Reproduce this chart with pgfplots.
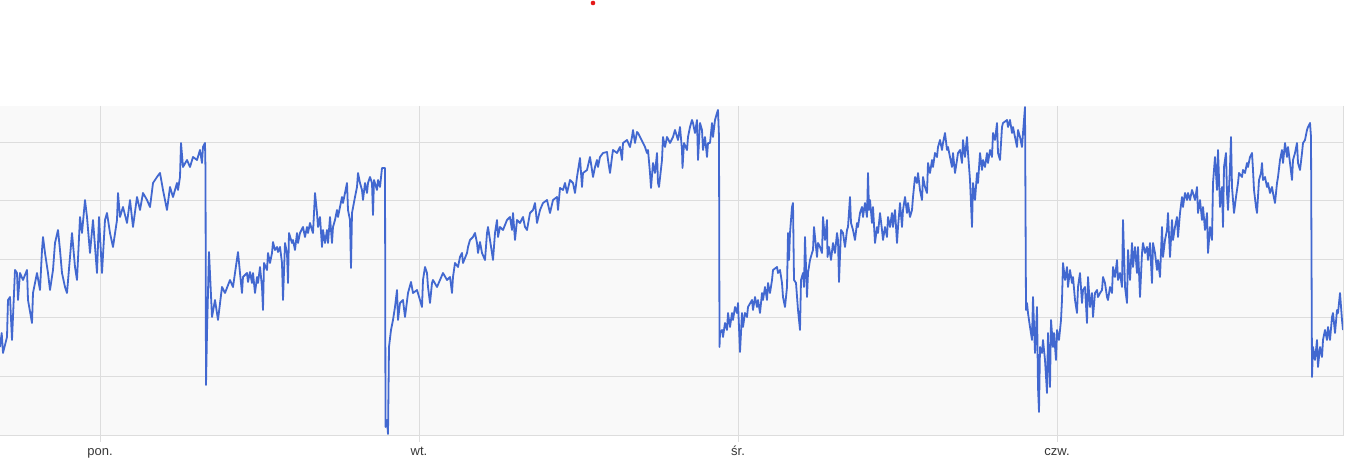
\documentclass[border=0pt]{standalone}
\usepackage{fontspec}
\setmainfont{Liberation Sans}
\usepackage{pgfplots}
\pgfplotsset{compat=1.18}
\definecolor{linec}{RGB}{66,104,208}
\definecolor{bgc}{RGB}{249,249,249}
\definecolor{gridc}{RGB}{221,221,221}
\definecolor{labc}{RGB}{55,55,55}
\definecolor{dotc}{RGB}{228,24,24}
\begin{document}
\begin{tikzpicture}[x=1pt,y=1pt]
\useasboundingbox (0,0) rectangle (1350,462);
\fill[dotc] (593,459) circle (2.3);
\begin{axis}[
  at={(0pt,26pt)}, anchor=south west,
  width=1343pt, height=330pt, scale only axis,
  xmin=0, xmax=1343, ymin=106, ymax=436, y dir=reverse,
  axis background/.style={fill=bgc},
  axis x line*=bottom, axis y line*=right,
  axis line style={gridc, line width=1pt},
  xtick={100,419,738,1057},
  xticklabels={pon.,wt.,śr.,czw.},
  ytick={143,201,260,318,377}, yticklabels={},
  ytick style={draw=none},
  xtick style={gridc, line width=1pt},
  major tick length=6pt, tick align=outside,
  grid=major, major grid style={gridc, line width=1pt},
  tick label style={font=\fontsize{13}{15}\selectfont, text=labc},
  xticklabel style={yshift=0pt, text height=9.5pt, text depth=2.8pt},
]
\addplot[linec, line width=1.8pt, line join=round] table[x=x,y=y] {
x y
0 347
1.7 333
3 353
7 337
8 300
10 297
12 340
13 317
15 270
17 273
18 300
20 273
23 280
27 270
28 300
32 323
33 293
37 273
40 290
42 250
43 237
45 253
48 273
50 290
53 270
55 243
58 230
60 250
62 273
65 287
67 293
70 257
72 233
75 267
77 280
80 217
82 233
85 200
87 217
90 253
93 220
97 273
99 217
102 273
105 220
107 213
110 233
113 247
117 220
118 193
120 217
123 207
127 223
130 200
133 227
137 197
140 210
143 193
147 200
150 207
153 183
157 177
160 173
163 190
167 210
170 187
173 197
177 183
178 190
180 177
181 143
183 167
187 160
190 167
193 157
197 160
200 150
202 163
203 147
205 143
205.5 170
206 385
207 333
209 252
212 317
215 300
218 320
222 287
225 293
230 280
233 287
238 252
240 273
242 293
243 277
247 273
248 282
250 272
252 283
253 273
255 293
257 277
258 283
260 267
262 287
263 310
264 263
267 270
268 253
270 263
272 253
273 242
275 250
277 247
278 252
280 247
282 263
283 300
285 243
287 253
288 283
289 233
292 243
293 240
295 250
297 233
298 243
300 233
303 227
305 237
307 227
308 233
310 223
312 230
313 233
315 193
317 213
318 227
320 217
322 247
323 230
325 243
327 230
328 243
330 217
332 243
333 227
335 220
337 210
338 217
340 207
342 197
343 203
345 193
347 183
348 210
350 220
351 268
352 213
355 197
357 187
358 173
360 183
362 190
363 200
365 183
367 193
368 183
370 177
372 183
373 215
374 180
377 190
378 180
380 187
382 168
385 168
385.5 427
387 420
388 434
389 347
391 330
393 320
395 307
397 290
398 320
400 303
403 300
405 317
408 293
411 282
413 293
417 290
420 300
422 307
423 280
425 267
427 273
428 287
430 303
432 283
433 280
437 287
440 280
443 273
447 280
450 277
452 293
453 277
455 263
458 267
460 257
462 253
463 263
467 253
468 247
470 240
473 237
475 233
477 243
478 253
480 242
482 253
485 260
487 233
488 227
490 240
492 253
493 260
495 233
497 220
498 237
500 227
503 230
507 220
510 217
512 230
513 213
515 240
517 220
520 223
523 217
525 227
527 230
530 213
533 210
535 203
537 223
540 210
543 203
547 200
550 213
553 200
557 197
558 210
560 188
563 190
565 183
567 193
570 180
573 183
575 193
577 177
580 158
582 187
583 173
587 170
590 157
592 170
593 177
595 167
597 160
598 167
600 157
603 153
607 152
608 160
610 173
612 157
613 150
617 153
620 147
622 160
623 143
627 140
630 147
632 137
633 130
635 143
637 132
638 133
640 137
643 143
645 147
647 153
648 150
650 173
651 188
653 163
655 173
657 153
658 183
659 187
662 160
663 137
665 147
667 137
670 143
673 137
675 130
678 140
680 127
682 150
682.5 168
684 143
687 150
688 137
690 127
692 120
693 123
695 133
697 120
698 160
700 123
702 130
703 150
705 137
707 157
708 143
710 143
712 123
713 137
715 120
717 113
718 110
719 137
719.5 347
720 333
722 330
723 337
725 323
727 330
728 313
730 327
732 313
733 320
735 307
737 313
738 303
740 352
742 313
743 327
745 313
747 317
748 307
752 300
753 310
755 297
757 307
758 300
760 313
762 293
763 300
765 287
767 300
768 283
770 293
772 280
773 270
777 267
778 273
780 270
782 283
783 297
785 307
787 287
788 233
789 260
790 233
792 207
793 203
794 280
796 283
798 310
800 330
801 280
803 273
804 287
805 237
807 297
808 273
810 260
812 253
813 250
814 227
817 257
818 243
820 247
822 253
823 217
825 240
827 220
827.5 257
829 247
831 260
833 243
835 253
837 233
838 240
839 282
841 230
843 233
845 247
847 230
848 227
850 197
851 223
853 230
855 240
857 223
858 227
860 213
862 207
863 217
865 203
867 217
868 173
869 210
870 200
872 223
873 207
875 243
877 227
878 233
880 213
882 230
883 240
885 227
887 237
888 217
890 227
892 213
893 227
895 210
897 243
898 227
900 203
902 227
903 210
905 197
907 213
908 203
910 217
912 210
913 197
915 177
917 183
918 173
920 190
922 200
923 177
925 187
927 193
928 163
930 173
932 160
933 167
935 153
937 157
938 147
940 140
942 150
943 143
945 133
947 150
948 147
950 157
952 167
953 153
955 173
957 160
958 153
960 150
962 163
963 140
965 157
967 137
968 153
970 180
972 227
973 183
975 200
977 173
978 183
980 153
982 170
983 160
985 167
987 153
988 163
990 150
992 157
993 133
995 140
997 123
998 153
1000 160
1002 127
1003 123
1007 120
1008 127
1010 120
1012 133
1013 127
1015 137
1017 147
1018 130
1020 137
1022 147
1023 133
1025 107
1026 310
1027 303
1028 313
1030 327
1032 340
1033 297
1035 353
1037 307
1038 387
1039 412
1040 347
1042 353
1043 340
1045 360
1047 393
1048 333
1050 387
1051 320
1053 347
1054 333
1056 360
1057 330
1059 340
1061 320
1062 300
1063 263
1065 280
1067 267
1068 287
1070 270
1072 283
1073 277
1075 300
1077 313
1078 287
1080 273
1082 303
1083 290
1085 287
1087 323
1088 277
1090 307
1092 293
1093 317
1095 293
1097 290
1098 297
1100 293
1102 290
1103 277
1105 283
1107 297
1108 300
1110 287
1112 293
1113 267
1115 277
1117 260
1118 280
1120 273
1122 287
1123 220
1125 287
1127 303
1128 250
1130 280
1132 243
1133 267
1135 247
1137 273
1138 247
1140 297
1142 253
1143 243
1145 253
1147 247
1148 260
1150 243
1152 283
1153 243
1155 253
1157 270
1158 260
1160 277
1162 227
1163 257
1165 240
1167 230
1168 213
1170 257
1172 220
1173 240
1175 227
1177 217
1178 237
1180 213
1182 197
1183 207
1185 193
1187 200
1188 193
1190 200
1192 190
1193 193
1195 200
1197 187
1198 213
1200 200
1202 220
1203 207
1205 230
1207 213
1208 253
1210 227
1212 240
1213 183
1215 157
1217 190
1218 150
1220 207
1222 187
1223 227
1224 167
1226 153
1227 193
1228 210
1230 167
1231 137
1232 187
1234 213
1236 197
1238 183
1239 173
1242 177
1243 170
1245 173
1247 163
1248 167
1250 157
1252 153
1253 170
1254 190
1256 207
1257 213
1259 180
1261 173
1262 163
1263 180
1265 177
1267 187
1268 183
1270 193
1272 187
1273 193
1275 203
1277 183
1278 177
1280 160
1282 150
1283 163
1285 143
1287 157
1288 147
1290 163
1292 180
1293 160
1295 153
1297 143
1298 163
1300 170
1302 153
1303 143
1305 140
1307 130
1308 127
1310 123
1311 137
1312 377
1313 347
1315 360
1317 340
1318 367
1320 347
1322 357
1323 340
1325 330
1327 340
1328 327
1330 340
1332 317
1333 313
1335 333
1337 310
1338 313
1340 293
1342 320
1343 330
};
\end{axis}
\end{tikzpicture}
\end{document}
